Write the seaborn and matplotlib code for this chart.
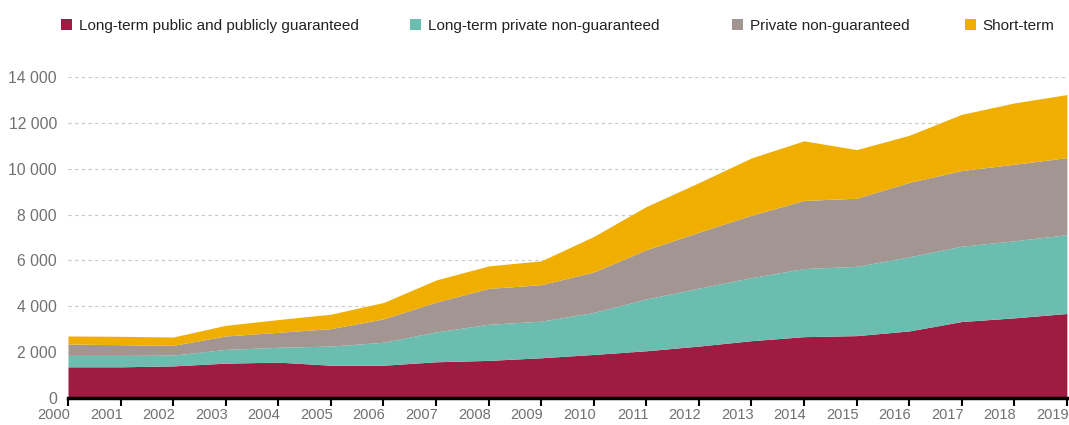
import numpy as np
import seaborn as sns
import matplotlib.pyplot as plt
from matplotlib.patches import Patch
from matplotlib.ticker import FuncFormatter
from matplotlib.transforms import ScaledTranslation

years = list(range(2000, 2020))

# valeurs (empilées)
lt_public = [1360, 1360, 1400, 1520, 1565, 1430, 1430, 1580, 1640, 1755,
             1900, 2060, 2265, 2500, 2675, 2720, 2925, 3335, 3495, 3685]
lt_private_ng = [497, 497, 470, 600, 645, 835, 1000, 1300, 1575, 1595,
                 1830, 2260, 2525, 2750, 2970, 3020, 3230, 3285, 3360, 3435]
private_ng = [498, 468, 425, 585, 655, 760, 1020, 1300, 1565, 1590,
              1765, 2145, 2440, 2720, 2970, 2970, 3245, 3300, 3335, 3360]
short_term = [350, 365, 365, 465, 555, 630, 715, 965, 980, 1040,
              1550, 1885, 2160, 2500, 2600, 2120, 2055, 2450, 2675, 2750]

labels = ["Long-term public and publicly guaranteed", "Long-term private non-guaranteed",
          "Private non-guaranteed", "Short-term"]
colors = ["#9E1B42", "#6BBDB0", "#A39591", "#F0AF00"]

sns.set_theme(style="white")
plt.rcParams['font.family'] = ['Liberation Sans', 'DejaVu Sans']

fig = plt.figure(figsize=(10.69, 4.25), dpi=100)
ax = fig.add_axes([0.0636, 0.0635, 0.9344, 0.7555])

ax.stackplot(years, lt_public, lt_private_ng, private_ng, short_term,
             colors=colors, linewidth=0)

ax.set_xlim(2000, 2019)
ax.set_ylim(0, 14000)
ax.set_xticks(years)
ax.set_yticks(range(0, 14001, 2000))
ax.yaxis.set_major_formatter(FuncFormatter(lambda v, p: f"{v:,.0f}".replace(",", " ")))

ax.yaxis.grid(True, linestyle=(0, (3, 3)), color="#c8c8c8", linewidth=0.8)
ax.set_axisbelow(True)
for s in ["top", "right", "left"]:
    ax.spines[s].set_visible(False)
ax.spines["bottom"].set_color("black")
ax.spines["bottom"].set_linewidth(2.5)
ax.spines["bottom"].set_zorder(5)

ax.tick_params(axis="x", direction="out", length=6, width=1.5, color="black",
               labelcolor="#707070", labelsize=10.5, pad=1.5, bottom=True)
ax.tick_params(axis="y", length=0, labelcolor="#707070", labelsize=11.3, pad=8)

# étiquettes des années alignées à droite sur le tick
shift = ScaledTranslation(2 / 100, 0, fig.dpi_scale_trans)
for lab in ax.get_xticklabels():
    lab.set_horizontalalignment("right")
    lab.set_transform(lab.get_transform() + shift)

# légende : une entrée par position
leg_x = [61, 410, 732, 965]
for c, l, x in zip(colors, labels, leg_x):
    fig.legend([Patch(facecolor=c, edgecolor="none")], [l], loc="center left",
               bbox_to_anchor=(x / 1069, 0.939), frameon=False, fontsize=11,
               handlelength=0.75, handleheight=0.75, handletextpad=0.4,
               labelcolor="#222222", borderpad=0, borderaxespad=0)

fig.savefig("out.png", dpi=100)
